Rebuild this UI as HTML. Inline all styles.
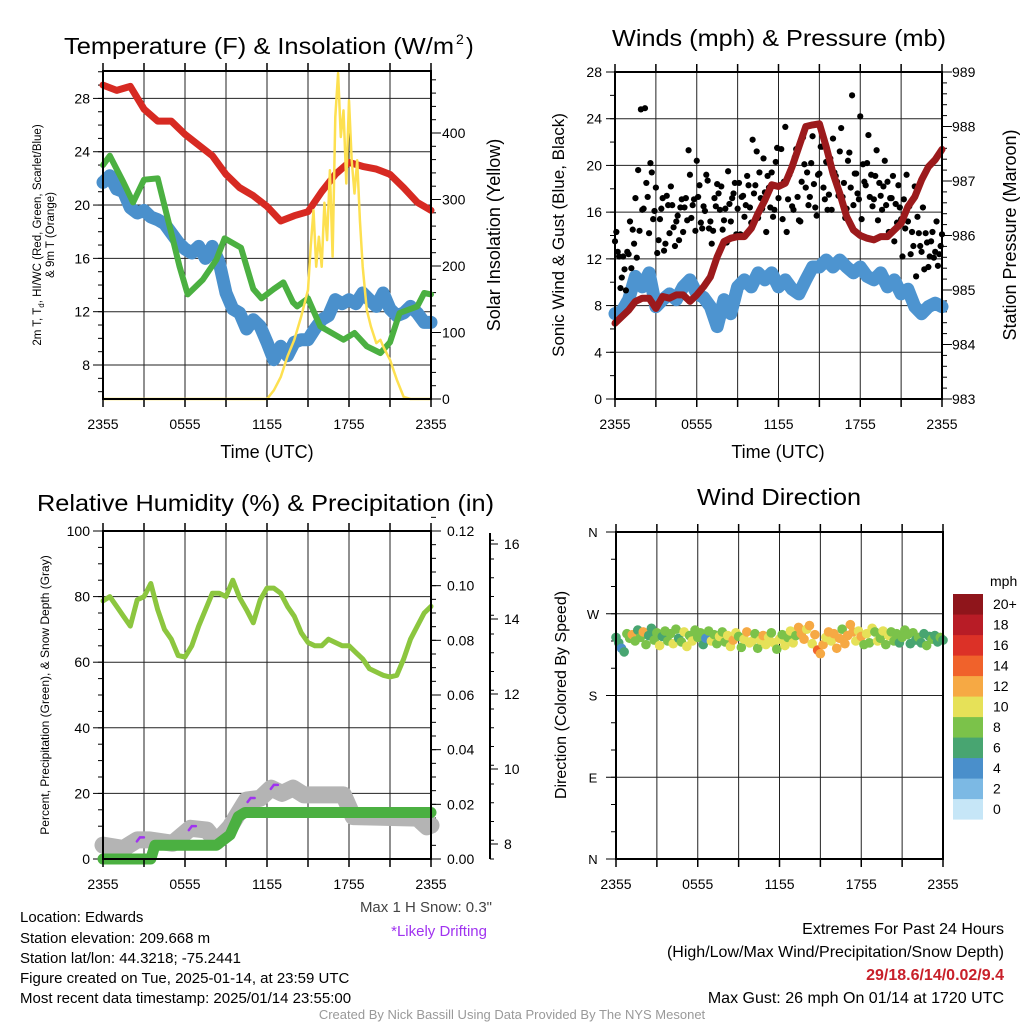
<!DOCTYPE html>
<html><head><meta charset="utf-8"><style>
html,body{margin:0;padding:0;background:#fff;}
svg{display:block;font-family:"Liberation Sans",Arial,sans-serif;}
</style></head><body>
<svg id="fig" width="1024" height="1024" viewBox="0 0 1024 1024" xmlns="http://www.w3.org/2000/svg">
<rect width="1024" height="1024" fill="#fff"/>
<g id="g1"></g>
<g id="g2"></g>
<g id="g3"></g>
<g id="g4"></g>

<text x="64" y="54" font-size="23" textLength="390" lengthAdjust="spacingAndGlyphs">Temperature (F) &amp; Insolation (W/m</text>
<text x="456" y="44" font-size="14">2</text>
<text x="466" y="54" font-size="23">)</text>
<text x="612" y="46" font-size="23" textLength="334" lengthAdjust="spacingAndGlyphs">Winds (mph) &amp; Pressure (mb)</text>
<text x="37" y="511" font-size="23" textLength="457" lengthAdjust="spacingAndGlyphs">Relative Humidity (%) &amp; Precipitation (in)</text>
<text x="697" y="505" font-size="23" textLength="164" lengthAdjust="spacingAndGlyphs">Wind Direction</text>

<text x="267" y="458" font-size="18" text-anchor="middle">Time (UTC)</text>
<text x="778" y="458" font-size="18" text-anchor="middle">Time (UTC)</text>

<text transform="translate(41,235) rotate(-90)" font-size="11.5" text-anchor="middle">2m T, T<tspan font-size="8" dy="3">d</tspan><tspan dy="-3">, HI/WC (Red, Green, Scarlet/Blue)</tspan></text>
<text transform="translate(54,235) rotate(-90)" font-size="11.5" text-anchor="middle">&amp; 9m T (Orange)</text>
<text transform="translate(500,235) rotate(-90)" font-size="18" text-anchor="middle">Solar Insolation (Yellow)</text>
<text transform="translate(564,235) rotate(-90)" font-size="17" text-anchor="middle">Sonic Wind &amp; Gust (Blue, Black)</text>
<text transform="translate(1016,235) rotate(-90)" font-size="18" text-anchor="middle">Station Pressure (Maroon)</text>
<text transform="translate(49,695) rotate(-90)" font-size="12" text-anchor="middle">Percent, Precipitation (Green), &amp; Snow Depth (Gray)</text>
<text transform="translate(566,695) rotate(-90)" font-size="16" text-anchor="middle">Direction (Colored By Speed)</text>

<g font-size="15">
<text x="20" y="922">Location: Edwards</text>
<text x="20" y="943">Station elevation: 209.668 m</text>
<text x="20" y="963">Station lat/lon: 44.3218; -75.2441</text>
<text x="20" y="983">Figure created on Tue, 2025-01-14, at 23:59 UTC</text>
<text x="20" y="1003">Most recent data timestamp: 2025/01/14 23:55:00</text>
</g>
<text x="492" y="912" font-size="15" fill="#444" text-anchor="end">Max 1 H Snow: 0.3"</text>
<text x="487" y="936" font-size="15" fill="#a033f0" text-anchor="end">*Likely Drifting</text>
<g font-size="16" text-anchor="end">
<text x="1004" y="934">Extremes For Past 24 Hours</text>
<text x="1004" y="957">(High/Low/Max Wind/Precipitation/Snow Depth)</text>
<text x="1004" y="980" font-weight="bold" fill="#c8202a">29/18.6/14/0.02/9.4</text>
<text x="1004" y="1003">Max Gust: 26 mph On 01/14 at 1720 UTC</text>
</g>
<text x="512" y="1019" font-size="13" fill="#999" text-anchor="middle">Created By Nick Bassill Using Data Provided By The NYS Mesonet</text>
</svg>
<script>
// ---------- data ----------
const xTickLabels = ["2355","0555","1155","1755","2355"];
const tempHours = [0,1,2,3,4,5,6,7,8,9,10,11,12,13,14,15,16,17,18,19,20,21,22,23,24];
const tempValues = [29.0,28.6,28.9,27.2,26.3,26.3,25.3,24.5,23.7,22.3,21.3,20.7,19.9,18.8,19.2,19.5,21.0,22.3,23.2,22.9,22.7,22.3,21.3,20.2,19.6];
const dewHours = [0,0.5,1.5,2.2,3,4,5,5.6,6.2,7.3,8.3,8.9,10.1,11,11.6,12.5,13.2,13.9,14.2,15,15.9,17.6,18.4,19.3,20.3,21,21.7,23,23.5,24];
const dewValues = [23.0,23.7,21.7,20.2,21.9,22.0,17.9,15.4,13.3,14.4,15.9,17.5,16.8,13.7,13.0,13.7,14.2,12.7,12.4,13.0,10.9,9.9,10.4,9.4,8.9,9.7,11.9,12.4,13.4,13.3];
const chillValues = [21.7,22.2,21.2,21.0,19.8,19.4,19.6,19.1,18.9,18.6,17.9,17.2,16.7,16.4,16.9,16.0,16.9,15.7,13.4,12.2,11.9,10.7,11.4,10.9,9.7,8.4,9.4,8.7,9.7,9.9,9.9,10.7,11.4,11.7,12.9,12.6,12.9,12.6,13.4,12.9,12.4,13.4,12.2,11.7,11.9,12.4,11.9,11.2,11.2];
const solarHours = [0,12,12.5,13,13.5,14,14.5,15,15.2,15.4,15.6,15.8,16,16.2,16.4,16.6,16.8,17,17.2,17.4,17.6,17.8,18,18.2,18.4,18.6,18.8,19,19.3,19.6,20,20.3,20.5,21,21.5,22,22.5,24];
const solarValues = [0,0,13,33,64,89,124,164,229,284,199,244,199,295,239,344,214,424,490,394,434,324,449,359,309,359,269,199,134,109,84,89,79,59,29,3,0,0];
const windValues = [7.3,7.5,8.5,10.5,9.6,10.8,7.9,8.5,9.0,8.5,9.6,10.2,9.0,8.7,7.9,6.2,8.5,7.3,9.6,10.2,9.6,10.8,10.2,10.8,9.6,10.2,9.4,9.0,10.2,11.3,11.3,11.9,11.3,11.9,11.3,10.8,11.3,10.5,10.2,10.8,9.6,10.2,9.0,9.4,7.9,7.3,7.9,8.2,7.9];
const gustA = [13.5,12.6,9.5,12.2,9.3,12.4,11.2,13.3,12.1,14.4,16.2,24.9,17.3,20.2,15.4,18.1,13.6,16.3,12.7,17.4,14.2,16.6,13.1,15.7,16.4,14.3,17.2,21.3,15.5,17.1,20.4,18.3,14.6,16.1,18.7,15.2,14.4,16.5,17.6,18.2,15.3,13.4,16.7,17.2,18.5,16.3,14.1,17.4,16.6,18.3,15.1,17.6,21.2,19.4,16.3,17.7,19.1,16.4,15.6,20.3,17.2,21.4,18.6,14.3,19.2,16.5,20.7,17.3,15.2,22.4,18.1,16.6,20.2,18.4,15.7,19.3,21.6,17.1,16.2,20.6,22.3,19.1,17.4,23.2,18.5,16.3,21.1,26.0,19.3,17.6,24.2,20.1,18.3,22.6,19.2,17.1,21.3,18.5,16.2,20.4,18.6,17.2,19.1,16.7,18.3,15.4,17.1,19.2,16.5,14.3,18.2,15.6,13.1,16.4,14.2,11.3,13.5,12.1,15.2,12.4,14.1];
const gustB = [14.3,12.2,10.4,11.1,12.6,15.2,14.5,17.2,19.6,24.8,16.3,18.5,14.2,19.4,16.1,12.5,15.4,17.2,13.3,16.6,18.2,14.7,15.2,13.6,17.1,16.4,15.3,19.2,16.6,14.4,17.3,15.1,16.5,19.2,14.6,13.3,17.2,18.4,16.2,14.5,16.3,19.5,15.2,17.6,14.1,18.5,17.3,15.6,19.1,16.4,22.2,18.3,15.5,17.2,20.6,14.3,18.1,19.4,16.2,21.5,18.3,15.4,23.3,17.1,19.5,16.2,21.4,15.3,18.6,20.1,19.4,17.3,22.5,16.4,19.2,21.6,18.1,20.3,17.5,16.2,19.4,18.6,21.2,17.3,15.5,20.4,18.1,16.6,19.3,17.1,15.4,18.6,20.2,17.3,16.5,19.1,15.3,17.4,18.2,16.6,14.3,17.2,13.5,15.1,16.4,12.2,14.6,15.2,12.4,13.1,10.5,14.2,12.6,11.1,13.4,12.2,14.3,12.6,11.4,13.1];
const presHours = [0,0.5,1,1.5,2,2.5,3,3.5,4,4.5,5,5.5,6,6.5,7,7.5,8,8.5,9,9.5,10,10.5,11,11.5,12,12.5,13,13.5,14,14.5,15,15.5,16,16.5,17,17.5,18,18.5,19,19.5,20,20.5,21,21.5,22,22.5,23,23.5,24];
const presValues = [984.39,984.51,984.63,984.79,984.85,984.85,984.66,984.88,984.85,984.91,984.91,984.79,984.91,985.06,985.24,985.61,985.89,985.95,985.98,985.98,986.13,986.41,986.65,986.93,986.90,986.96,987.26,987.63,988.00,988.03,988.05,987.63,987.14,986.77,986.35,986.10,986.00,985.95,985.92,985.98,985.98,986.10,986.22,986.53,986.71,987.02,987.26,987.39,987.58];
const rhValues = [78.7,80,77,74,71,79,80,84,76,70,67,62,61.6,65,71,76,81,81,80,85,79.6,76,72,79,82.6,82.6,81,77,74,69,66,65,65,67,66,65,65,63,61,58,57,56,55.5,56,61,67,71,75,77];
const precipHours = [0,3.5,3.8,8.3,9.3,9.9,10.4,24];
const precipValues = [0,0,0.005,0.005,0.0088,0.0155,0.017,0.017];
const snowHours = [0,1.5,2.5,3.4,5.1,6.4,7.6,8.3,9.3,10.5,11.5,12.3,13.1,13.9,14.7,17.6,18.3,23,23.7,24];
const snowValues = [7.97,7.88,8.11,8.11,8.02,8.42,8.37,8.06,8.46,9.17,9.22,9.49,9.35,9.49,9.31,9.31,8.73,8.69,8.46,8.5];
const driftHours = [2.7,6.5,10.8,12.5];
const driftValues = [8.15,8.45,9.2,9.55];
const dirValues = [244,238,232,228,248,243,247,240,252,244,250,236,246,254,241,249,235,245,251,240,248,237,253,243,239,250,234,246,240,252,244,249,236,243,251,240,247,237,245,250,239,246,234,241,249,245,233,242,250,238,240,248,232,241,246,236,244,249,238,231,242,247,235,244,251,238,246,255,248,242,253,257,237,247,230,226,236,244,250,240,248,232,243,253,237,246,258,250,240,251,245,236,248,238,254,250,240,243,251,236,246,250,240,248,238,244,252,247,237,249,241,244,238,248,235,245,242,246,239,244,241];
const dirSpeeds = [6,6,5,7,8,8,12,8,7,8,12,8,7,6,8,8,10,7,8,9,8,10,8,7,8,10,11,8,10,8,9,8,7,5,8,10,9,8,10,8,9,10,11,12,10,8,9,10,12,11,10,9,8,10,12,11,10,9,10,8,10,9,10,8,11,10,9,12,13,12,11,12,10,13,15,12,13,11,12,10,12,13,12,9,12,13,12,12,11,10,12,9,10,8,10,9,11,8,10,9,10,8,9,8,7,8,9,8,7,8,6,8,7,6,8,7,8,7,6,8,7];
const speedColors = ["#c6e6f7","#7cb9e4","#4a8fcb","#48a571","#7bc24a","#e6e158","#f6a944","#f0622b","#dc3127","#b81c26","#8f151b"];
const colorbarLabels = ["0","2","4","6","8","10","12","14","16","18","20+"];

// ---------- helpers ----------
const NS="http://www.w3.org/2000/svg";
function mk(parent,tag,attrs){const e=document.createElementNS(NS,tag);for(const k in attrs)e.setAttribute(k,attrs[k]);parent.appendChild(e);return e;}
function pathFrom(xs,ys){return xs.map((x,i)=>(i?"L":"M")+x.toFixed(1)+","+ys[i].toFixed(1)).join("");}
function halfHours(n){const a=[];for(let i=0;i<n;i++)a.push(i*0.5);return a;}

function frame(g,L,T,R,B,vLines,hLines){
  for(const y of hLines){const l=mk(g,"line",{x1:L,x2:R,y1:y,y2:y,stroke:"#222","stroke-width":1});
    
    }
  for(const x of vLines){const l=mk(g,"line",{x1:x,x2:x,y1:T,y2:B,stroke:"#222","stroke-width":1});
    
    }
}
function border(g,L,T,R,B){const r=mk(g,"rect",{x:L,y:T,width:R-L,height:B-T,fill:"none",stroke:"#000","stroke-width":2});
  
  }
function xAxis(g,L,T,R,B){
  const xs=h=>L+h*(R-L)/24;
  for(let h=0;h<=24;h+=3){
    mk(g,"line",{x1:xs(h),x2:xs(h),y1:B,y2:B+8,stroke:"#000","stroke-width":1.5});
    mk(g,"line",{x1:xs(h),x2:xs(h),y1:T,y2:T-8,stroke:"#000","stroke-width":1.5});
  }
  xTickLabels.forEach((s,i)=>{const t=mk(g,"text",{x:xs(i*6),y:B+30,"font-size":14,"text-anchor":"middle"});t.textContent=s;
    
    });
}
function yTicks(g,x,side,ys,len){for(const y of ys){mk(g,"line",{x1:x,x2:x+side*len,y1:y,y2:y,stroke:"#000","stroke-width":1});}}
function yLabels(g,x,anchor,ys,labels,size){ys.forEach((y,i)=>{const t=mk(g,"text",{x:x,y:y+5,"font-size":size||14,"text-anchor":anchor});t.textContent=labels[i];
  
  });}

// ---------- Panel 1 ----------
(function(){
  const g=document.getElementById("g1");
  const L=103,T=71,R=431,B=399;
  const xs=h=>L+h*(R-L)/24;
  const yT=v=>B-(v-5.45)*13.33;
  const yS=w=>B-w*0.665;
  const maj=[8,12,16,20,24,28];
  frame(g,L,T,R,B,[3,6,9,12,15,18,21].map(xs),maj.map(yT));
  const mn=[];for(let v=6;v<=30;v++)mn.push(yT(v));
  yTicks(g,L,-1,mn,5);yTicks(g,L,-1,maj.map(yT),10);
  yLabels(g,L-13,"end",maj.map(yT),maj.map(String));
  const smn=[];for(let w=0;w<=490;w+=20)smn.push(yS(w));
  yTicks(g,R,1,smn,5);yTicks(g,R,1,[0,100,200,300,400].map(yS),10);
  yLabels(g,R+11,"start",[0,100,200,300,400].map(yS),["0","100","200","300","400"]);
  const hh=halfHours(chillValues.length);
  let p=mk(g,"path",{d:pathFrom(hh.map(xs),chillValues.map(yT)),fill:"none",stroke:"#4a90cc","stroke-width":13,"stroke-linejoin":"round","stroke-linecap":"round"});
  
  
  p=mk(g,"path",{d:pathFrom(dewHours.map(xs),dewValues.map(yT)),fill:"none",stroke:"#4bb041","stroke-width":6,"stroke-linejoin":"round","stroke-linecap":"round"});
  
  
  p=mk(g,"path",{d:pathFrom(tempHours.map(xs),tempValues.map(yT)),fill:"none",stroke:"#d72a22","stroke-width":7,"stroke-linejoin":"round","stroke-linecap":"round"});
  
  
  p=mk(g,"path",{d:pathFrom(solarHours.map(xs),solarValues.map(yS)),fill:"none",stroke:"#fde050","stroke-width":2.5,"stroke-linejoin":"round"});
  
  
  border(g,L,T,R,B);xAxis(g,L,T,R,B);
})();

// ---------- Panel 2 ----------
(function(){
  const g=document.getElementById("g2");
  const L=615,T=72,R=942,B=399;
  const xs=h=>L+h*(R-L)/24;
  const yW=v=>B-v*(B-T)/28;
  const yP=p=>B-(p-983)*(B-T)/6;
  const maj=[0,4,8,12,16,20,24,28];
  frame(g,L,T,R,B,[3,6,9,12,15,18,21].map(xs),maj.map(yW));
  const mn=[];for(let v=0;v<=28;v+=2)mn.push(yW(v));
  yTicks(g,L,-1,mn,5);yTicks(g,L,-1,maj.map(yW),9);
  yLabels(g,L-13,"end",maj.map(yW),maj.map(String));
  const pm=[];for(let p=983;p<=989.001;p+=0.2)pm.push(yP(p));
  yTicks(g,R,1,pm,5);
  const pMaj=[983,984,985,986,987,988,989];
  yTicks(g,R,1,pMaj.map(yP),10);
  yLabels(g,R+10,"start",pMaj.map(yP),pMaj.map(String));
  const hh=halfHours(windValues.length);
  let p=mk(g,"path",{d:pathFrom(hh.map(xs),windValues.map(yW)),fill:"none",stroke:"#4d94d0","stroke-width":13,"stroke-linejoin":"round","stroke-linecap":"round"});
  
  
  gustA.forEach((v,i)=>{const c=mk(g,"circle",{cx:xs(i*0.2),cy:yW(v),r:3.1,fill:"#000"});
    
    });
  gustB.forEach((v,i)=>{const c=mk(g,"circle",{cx:xs(0.1+i*0.2),cy:yW(v),r:3.1,fill:"#000"});
    
    });
  p=mk(g,"path",{d:pathFrom(presHours.map(xs),presValues.map(yP)),fill:"none",stroke:"#9c1a1c","stroke-width":7,"stroke-linejoin":"round","stroke-linecap":"round"});
  
  
  border(g,L,T,R,B);xAxis(g,L,T,R,B);
})();

// ---------- Panel 3 ----------
(function(){
  const g=document.getElementById("g3");
  const L=103,T=531,R=431,B=859;
  const xs=h=>L+h*(R-L)/24;
  const yR=v=>B-v*(B-T)/100;
  const yPr=v=>B-v*(B-T)/0.12;
  const ySn=v=>619-(v-14)*37.5;
  const maj=[0,20,40,60,80,100];
  frame(g,L,T,R,B,[3,6,9,12,15,18,21].map(xs),[20,40,60,80].map(yR));
  const mn=[];for(let v=0;v<=100;v+=5)mn.push(yR(v));
  yTicks(g,L,-1,mn,5);yTicks(g,L,-1,maj.map(yR),10);
  yLabels(g,L-13,"end",maj.map(yR),maj.map(String));
  const pm=[];for(let v=0;v<=0.1251;v+=0.005)pm.push(yPr(v));
  yTicks(g,R,1,pm,5);
  const prMaj=[0,0.02,0.04,0.06,0.08,0.10,0.12];
  yTicks(g,R,1,prMaj.map(yPr),10);
  yLabels(g,R+16,"start",prMaj.map(yPr),prMaj.map(v=>v.toFixed(2)));
  const ax=mk(g,"line",{x1:490,x2:490,y1:533,y2:859,stroke:"#000","stroke-width":2});
  
  
  const sm=[];for(let v=7.6;v<=16.3;v+=0.5)sm.push(ySn(v));
  yTicks(g,490,1,sm.filter(y=>y>=533&&y<=859),4);
  const sMaj=[8,10,12,14,16];
  yTicks(g,490,1,sMaj.map(ySn),8);
  yLabels(g,504,"start",sMaj.map(ySn),sMaj.map(String));
  const hh=halfHours(rhValues.length);
  let p=mk(g,"path",{d:pathFrom(snowHours.map(xs),snowValues.map(ySn)),fill:"none",stroke:"#b4b4b4","stroke-width":17,"stroke-linejoin":"round","stroke-linecap":"round"});
  
  
  p=mk(g,"path",{d:pathFrom(precipHours.map(xs),precipValues.map(yPr)),fill:"none",stroke:"#4bb041","stroke-width":11,"stroke-linejoin":"round","stroke-linecap":"round"});
  
  
  driftHours.forEach((h,i)=>{const x=xs(h),y=ySn(driftValues[i]);
    const d=mk(g,"path",{d:`M${x-3},${y+3}L${x},${y-1}L${x+4},${y-1}`,fill:"none",stroke:"#a033f0","stroke-width":2.5,"stroke-linecap":"round"});
    
    });
  p=mk(g,"path",{d:pathFrom(hh.map(xs),rhValues.map(yR)),fill:"none",stroke:"#8cc63f","stroke-width":5,"stroke-linejoin":"round","stroke-linecap":"round"});
  
  
  border(g,L,T,R,B);xAxis(g,L,T,R,B);
})();

// ---------- Panel 4 ----------
(function(){
  const g=document.getElementById("g4");
  const L=616,T=532,R=943,B=859;
  const xs=h=>L+h*(R-L)/24;
  const yD=d=>B-d*(B-T)/360;
  frame(g,L,T,R,B,[3,6,9,12,15,18,21].map(xs),[90,180,270].map(yD));
  const dm=[];for(let d=0;d<=360;d+=30)dm.push(yD(d));
  yTicks(g,L,-1,dm,5);yTicks(g,L,-1,[0,90,180,270,360].map(yD),10);
  yLabels(g,L-23,"middle",[0,90,180,270,360].map(yD),["N","E","S","W","N"],13);
  dirValues.forEach((d,i)=>{const s=dirSpeeds[i];const idx=Math.min(10,Math.floor(s/2));
    const c=mk(g,"circle",{cx:xs(i*0.2),cy:yD(d),r:4.8,fill:speedColors[idx]});
    
    });
  border(g,L,T,R,B);xAxis(g,L,T,R,B);
  const t=mk(g,"text",{x:990,y:586,"font-size":14});t.textContent="mph";
  
  
  for(let i=0;i<11;i++){const y=594+(10-i)*20.5;
    const r=mk(g,"rect",{x:953,y:y,width:30,height:20.6,fill:speedColors[i]});
    
    
    const l=mk(g,"text",{x:993,y:y+15,"font-size":14});l.textContent=colorbarLabels[i];
    
    }
})();
</script>
</body></html>
